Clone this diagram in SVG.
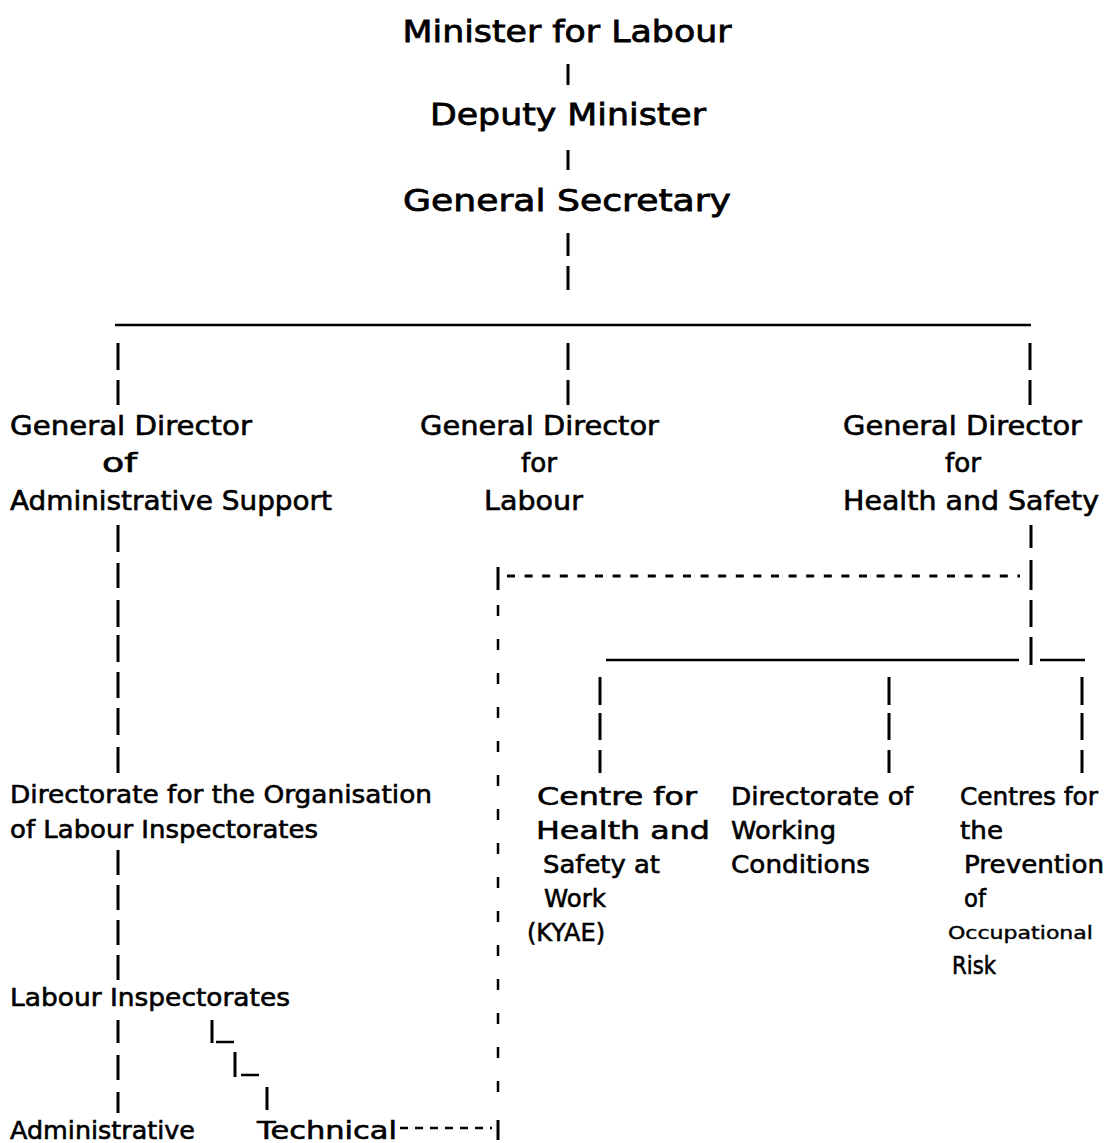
<svg xmlns="http://www.w3.org/2000/svg" width="1109" height="1143" viewBox="0 0 1109 1143">
<style>
  text { font-family: "DejaVu Sans", "Liberation Sans", sans-serif; fill: #000; stroke: #000; stroke-width: 0.6; }
  .t1 { font-size: 31px; stroke-width: 0.8; }
  .t2 { font-size: 26px; }
  .t3 { font-size: 25px; }
  .t4 { font-size: 17px; stroke-width: 0.4; }
  .bar { stroke: #000; stroke-width: 3; fill: none; }
  .ln { stroke: #000; stroke-width: 2.5; fill: none; }
  .dh { stroke: #000; stroke-width: 3; stroke-dasharray: 8 9.6; fill: none; }
  .dt { stroke: #000; stroke-width: 2.5; stroke-dasharray: 8 7; fill: none; }
  .dv { stroke: #000; stroke-width: 2.5; stroke-dasharray: 11 23; fill: none; }
</style>
<rect width="1109" height="1143" fill="#fff"/>

<g id="connectors">
  <!-- top chain -->
  <path class="bar" d="M568 64V85M568 150V170M568 233V256M568 266V290"/>
  <!-- main branch -->
  <path class="ln" d="M115 325H1031"/>
  <path class="bar" d="M118 343V370M118 380V405M568 343V370M568 380V405M1030 343V370M1030 380V405"/>
  <!-- administrative support column -->
  <path class="bar" d="M118 525V552M118 563V588M118 600V627M118 635V662M118 672V698M118 708V735M118 747V773"/>
  <path class="bar" d="M118 850V875M118 885V910M118 920V945M118 955V980"/>
  <path class="bar" d="M118 1020V1043M118 1055V1080M118 1092V1113"/>
  <!-- stepped link to technical -->
  <path class="bar" d="M212 1020V1043M235 1052V1077M267 1087V1110"/>
  <path class="ln" d="M216 1042H234M241 1075H259"/>
  <!-- health and safety column -->
  <path class="bar" d="M1031 525V548M1031 560V590M1031 600V627M1031 637V665"/>
  <path class="dh" d="M507 576H1020"/>
  <path class="ln" d="M606 660H1019M1040 660H1085"/>
  <path class="bar" d="M600 677V705M600 713V740M600 750V773M889 677V705M889 713V740M889 750V773M1082 677V705M1082 713V740M1082 750V773"/>
  <!-- dashed link from technical -->
  <path class="bar" d="M498 567V590"/>
  <path class="dv" d="M498 605V1115"/>
  <path class="bar" d="M498 1120V1140"/>
  <path class="dt" d="M400 1128H492"/>
</g>

<g id="minister">
  <text class="t1" x="567" y="42" text-anchor="middle" textLength="329" lengthAdjust="spacingAndGlyphs">Minister for Labour</text>
</g>
<g id="deputy-minister">
  <text class="t1" x="568" y="125" text-anchor="middle" textLength="276" lengthAdjust="spacingAndGlyphs">Deputy Minister</text>
</g>
<g id="general-secretary">
  <text class="t1" x="567" y="211" text-anchor="middle" textLength="328" lengthAdjust="spacingAndGlyphs">General Secretary</text>
</g>

<g id="gd-admin">
  <text class="t2" x="10" y="435" textLength="242" lengthAdjust="spacingAndGlyphs">General Director</text>
  <text class="t2" x="102" y="472" textLength="35" lengthAdjust="spacingAndGlyphs">of</text>
  <text class="t2" x="10" y="510" textLength="322" lengthAdjust="spacingAndGlyphs">Administrative Support</text>
</g>
<g id="gd-labour">
  <text class="t2" x="420" y="435" textLength="239" lengthAdjust="spacingAndGlyphs">General Director</text>
  <text class="t2" x="521" y="472" textLength="36" lengthAdjust="spacingAndGlyphs">for</text>
  <text class="t2" x="484" y="510" textLength="99" lengthAdjust="spacingAndGlyphs">Labour</text>
</g>
<g id="gd-health">
  <text class="t2" x="843" y="435" textLength="239" lengthAdjust="spacingAndGlyphs">General Director</text>
  <text class="t2" x="945" y="472" textLength="36" lengthAdjust="spacingAndGlyphs">for</text>
  <text class="t2" x="843" y="510" textLength="256" lengthAdjust="spacingAndGlyphs">Health and Safety</text>
</g>

<g id="dir-organisation">
  <text class="t3" x="10" y="803" textLength="422" lengthAdjust="spacingAndGlyphs">Directorate for the Organisation</text>
  <text class="t3" x="10" y="838" textLength="308" lengthAdjust="spacingAndGlyphs">of Labour Inspectorates</text>
</g>
<g id="labour-inspectorates">
  <text class="t3" x="10" y="1006" textLength="280" lengthAdjust="spacingAndGlyphs">Labour Inspectorates</text>
</g>
<g id="administrative">
  <text class="t3" x="10" y="1139" textLength="185" lengthAdjust="spacingAndGlyphs">Administrative</text>
</g>
<g id="technical">
  <text class="t3" x="257" y="1139" textLength="140" lengthAdjust="spacingAndGlyphs">Technical</text>
</g>

<g id="kyae">
  <text class="t3" x="537" y="805" textLength="160" lengthAdjust="spacingAndGlyphs">Centre for</text>
  <text class="t3" x="536" y="839" textLength="174" lengthAdjust="spacingAndGlyphs">Health and</text>
  <text class="t3" x="543" y="873" textLength="117" lengthAdjust="spacingAndGlyphs">Safety at</text>
  <text class="t3" x="544" y="907" textLength="62" lengthAdjust="spacingAndGlyphs">Work</text>
  <text class="t3" x="527" y="941" textLength="78" lengthAdjust="spacingAndGlyphs">(KYAE)</text>
</g>
<g id="working-conditions">
  <text class="t3" x="731" y="805" textLength="182" lengthAdjust="spacingAndGlyphs">Directorate of</text>
  <text class="t3" x="731" y="839" textLength="105" lengthAdjust="spacingAndGlyphs">Working</text>
  <text class="t3" x="731" y="873" textLength="139" lengthAdjust="spacingAndGlyphs">Conditions</text>
</g>
<g id="risk-prevention">
  <text class="t3" x="960" y="805" textLength="138" lengthAdjust="spacingAndGlyphs">Centres for</text>
  <text class="t3" x="960" y="839" textLength="43" lengthAdjust="spacingAndGlyphs">the</text>
  <text class="t3" x="964" y="873" textLength="140" lengthAdjust="spacingAndGlyphs">Prevention</text>
  <text class="t3" x="964" y="907" textLength="22" lengthAdjust="spacingAndGlyphs">of</text>
  <text class="t4" x="948" y="939" textLength="145" lengthAdjust="spacingAndGlyphs">Occupational</text>
  <text class="t3" x="952" y="974" textLength="44" lengthAdjust="spacingAndGlyphs">Risk</text>
</g>
</svg>
